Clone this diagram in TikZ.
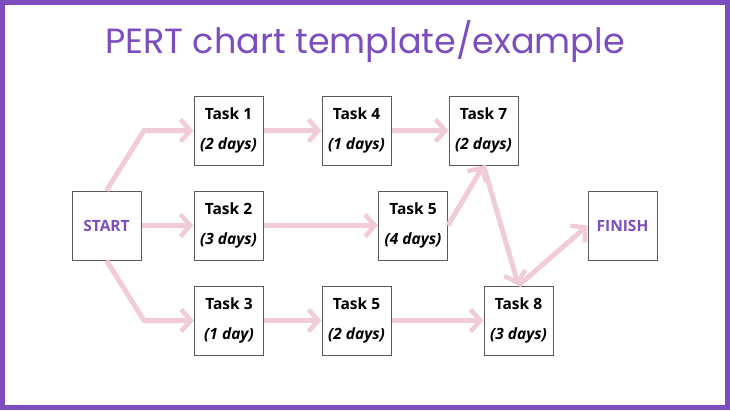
\documentclass[tikz,border=0pt]{standalone}
\usepackage{fontspec}
\setmainfont{Open Sans}
\newfontfamily\titlefont{Poppins}
\usetikzlibrary{arrows.meta}
\definecolor{frame}{HTML}{7C4DBF}
\definecolor{arrowpink}{HTML}{F2CBD9}
\definecolor{boxgray}{HTML}{5A5A5A}
\tikzset{
  taskbox/.style={draw=boxgray, line width=1pt, fill=white, minimum width=69pt, minimum height=69pt, inner sep=0pt, align=center, font=\fontsize{15.5}{30}\selectfont\bfseries},
  endbox/.style={taskbox, text=frame},
  arr/.style={draw=arrowpink, line width=5pt, -{Straight Barb[length=10pt,width=22pt,line width=4.5pt]}},
}
\newcommand{\tk}[2]{#1\\\textit{#2}}
\begin{document}
\begin{tikzpicture}[x=1pt,y=-1pt]
\useasboundingbox (0,0) rectangle (730,410);
\draw[frame, line width=5pt] (2.5,2.5) rectangle (727.5,407.5);
\node[text=frame, font=\titlefont\fontsize{35}{40}\selectfont] (title) at (365,42) {PERT chart template/example};

\node[endbox] (start) at (106.5,225.5) {START};
\node[taskbox] (t1) at (228.5,130.5) {\tk{Task 1}{(2 days)}};
\node[taskbox] (t2) at (228.5,225.5) {\tk{Task 2}{(3 days)}};
\node[taskbox] (t3) at (229,320.5) {\tk{Task 3}{(1 day)}};
\node[taskbox] (t4) at (356.5,130.5) {\tk{Task 4}{(1 days)}};
\node[taskbox] (t5b) at (356.5,320.5) {\tk{Task 5}{(2 days)}};
\node[taskbox] (t5) at (413,225.5) {\tk{Task 5}{(4 days)}};
\node[taskbox] (t7) at (483.5,130.5) {\tk{Task 7}{(2 days)}};
\node[taskbox] (t8) at (518.5,320.5) {\tk{Task 8}{(3 days)}};
\node[endbox] (finish) at (622.5,225.5) {FINISH};

\coordinate (k1) at (144,130.5);
\coordinate (k3) at (144,320.5);

\draw[arr] (start.north) -- (k1) -- (t1.west);
\draw[arr] (start.east) -- (t2.west);
\draw[arr] (start.south) -- (k3) -- (t3.west);
\draw[arr] (t1.east) -- (t4.west);
\draw[arr] (t4.east) -- (t7.west);
\draw[arr] (t2.east) -- (t5.west);
\draw[arr] (t5.east) -- (t7.south);
\draw[arr] (t7.south) -- (t8.north);
\draw[arr] (t8.north) -- (finish.west);
\draw[arr] (t3.east) -- (t5b.west);
\draw[arr] (t5b.east) -- (t8.west);
\end{tikzpicture}
\end{document}
